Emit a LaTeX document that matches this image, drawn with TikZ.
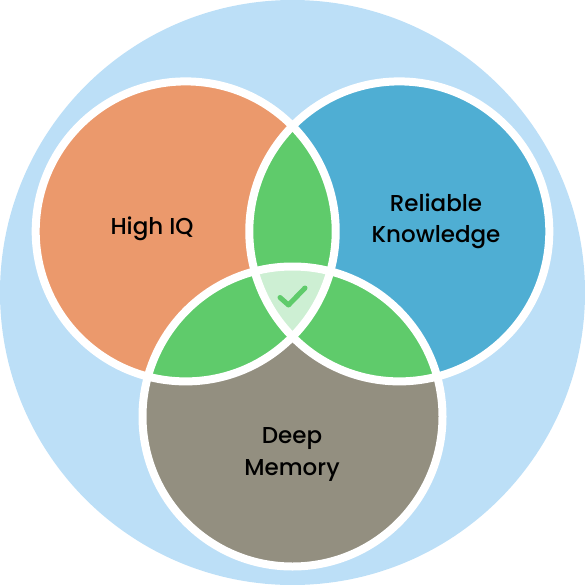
\documentclass[tikz,border=0pt]{standalone}
\usepackage{fontspec}
\setmainfont{Poppins}[UprightFont=* Medium]
\definecolor{skyback}{HTML}{BCDFF7}
\definecolor{setorange}{HTML}{EB996C}
\definecolor{setblue}{HTML}{4FAED3}
\definecolor{setgray}{HTML}{938F80}
\definecolor{lensgreen}{HTML}{5FCB6B}
\definecolor{corelight}{HTML}{CDEFD3}
\tikzset{
  ring/.style={draw=white, line width=8pt},
  setlabel/.style={font=\fontsize{23}{31.5}\selectfont, text=black, align=center, inner sep=0pt},
  tick/.style={draw=lensgreen, line width=5pt, line cap=round, line join=round}
}
\begin{document}
\begin{tikzpicture}[x=1pt,y=-1pt]
\useasboundingbox (0,0) rectangle (585,585);
\def\rad{150}
\coordinate (mid) at (292.5,292.5);
\coordinate (cIQ) at (185.7,231.4);
\coordinate (cKn) at (399.3,231.4);
\coordinate (cMe) at (292.5,416.5);

% outer disc
\fill[skyback] (mid) circle (292.5);

% the three sets
\fill[setorange] (cIQ) circle (\rad);
\fill[setblue] (cKn) circle (\rad);
\fill[setgray] (cMe) circle (\rad);

% pairwise overlaps
\begin{scope}
  \clip (cIQ) circle (\rad);
  \fill[lensgreen] (cKn) circle (\rad);
  \fill[lensgreen] (cMe) circle (\rad);
\end{scope}
\begin{scope}
  \clip (cKn) circle (\rad);
  \fill[lensgreen] (cMe) circle (\rad);
\end{scope}

% common core
\begin{scope}
  \clip (cIQ) circle (\rad);
  \clip (cKn) circle (\rad);
  \fill[corelight] (cMe) circle (\rad);
\end{scope}

% white rims
\draw[ring] (cIQ) circle (\rad);
\draw[ring] (cKn) circle (\rad);
\draw[ring] (cMe) circle (\rad);

% check mark in the core
\coordinate (t1) at (280,297.5);
\coordinate (t2) at (288.5,305);
\coordinate (t3) at (305,288);
\draw[tick] (t1) -- (t2) -- (t3);

% labels
\node[setlabel] (lIQ) at (152,228.5) {High IQ};
\node[setlabel] (lKn) at (436,221.5) {Reliable\\Knowledge};
\node[setlabel] (lMe) at (292,454.5) {Deep\\Memory};
\end{tikzpicture}
\end{document}
